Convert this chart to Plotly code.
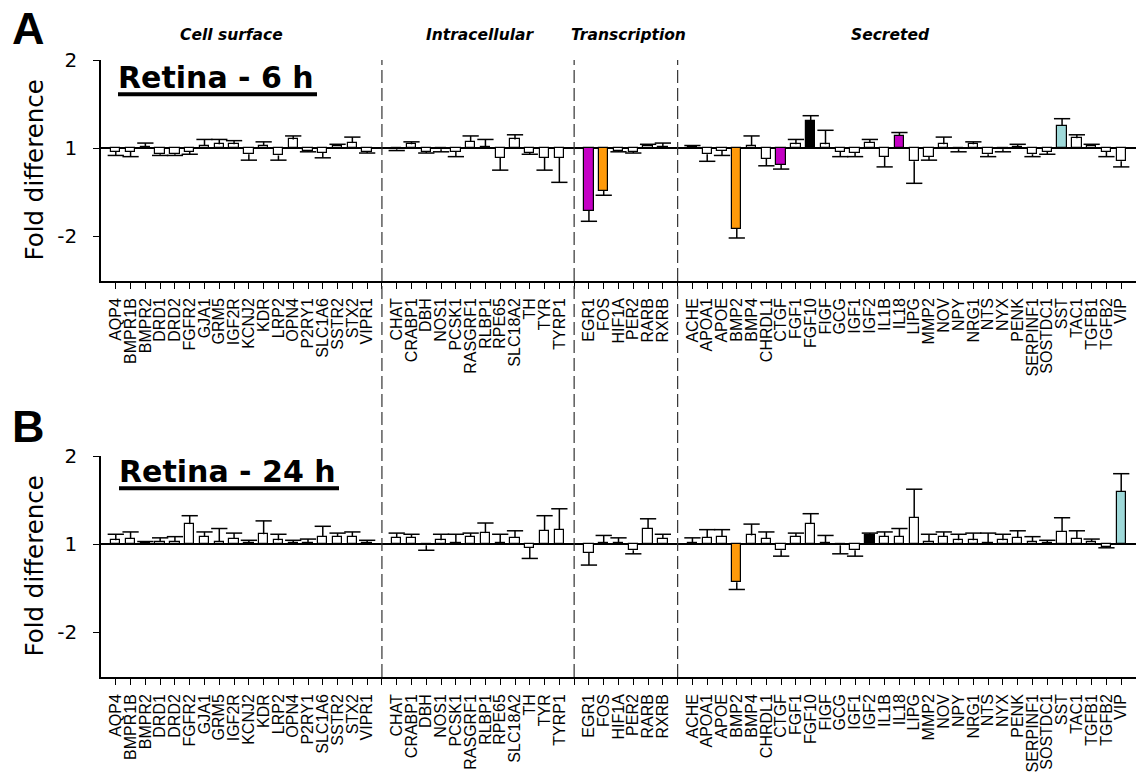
import math
import plotly.graph_objects as go

# ---------------- data ----------------
cell_surface = ["AQP4", "BMPR1B", "BMPR2", "DRD1", "DRD2", "FGFR2", "GJA1", "GRM5", "IGF2R",
                "KCNJ2", "KDR", "LRP2", "OPN4", "P2RY1", "SLC1A6", "SSTR2", "STX2", "VIPR1"]
intracellular = ["CHAT", "CRABP1", "DBH", "NOS1", "PCSK1", "RASGRF1", "RLBP1", "RPE65",
                 "SLC18A2", "TH", "TYR", "TYRP1"]
transcription = ["EGR1", "FOS", "HIF1A", "PER2", "RARB", "RXRB"]
secreted = ["ACHE", "APOA1", "APOE", "BMP2", "BMP4", "CHRDL1", "CTGF", "FGF1", "FGF10", "FIGF",
            "GCG", "IGF1", "IGF2", "IL1B", "IL18", "LIPG", "MMP2", "NOV", "NPY", "NRG1", "NTS",
            "NYX", "PENK", "SERPINF1", "SOSTDC1", "SST", "TAC1", "TGFB1", "TGFB2", "VIP"]
group_names = ["Cell surface", "Intracellular", "Transcription", "Secreted"]

# Retina - 6 h : fold difference (bar) and end of error whisker (fold)
a6_cell = [-1.03, -1.03, 1.01, -1.05, -1.05, -1.03, 1.02, 1.03, 1.03, -1.05, 1.02, -1.06, 1.07, -1.02, -1.04, 1.02, 1.04, -1.03]
a6_cell_e = [-1.06, -1.07, 1.04, -1.06, -1.06, -1.05, 1.07, 1.07, 1.06, -1.10, 1.05, -1.10, 1.10, -1.03, -1.08, 1.03, 1.09, -1.04]
a6_intra = [-1.01, 1.03, -1.03, -1.01, -1.03, 1.05, 1.01, -1.08, 1.07, -1.04, -1.08, -1.08]
a6_intra_e = [-1.02, 1.05, -1.04, -1.03, -1.07, 1.10, 1.07, -1.19, 1.11, -1.05, -1.19, -1.31]
a6_trans = [-1.64, -1.40, -1.02, -1.03, 1.02, 1.01]
a6_trans_e = [-1.78, -1.45, -1.03, -1.04, 1.03, 1.04]
a6_secr = [1.01, -1.05, -1.02, -1.89, 1.02, -1.09, -1.14, 1.03, 1.24, 1.03, -1.03, -1.04, 1.04, -1.07, 1.10,
           -1.11, -1.07, 1.03, -1.01, 1.03, -1.05, -1.01, 1.01, -1.05, -1.03, 1.19, 1.08, 1.02, -1.03, -1.11]
a6_secr_e = [1.02, -1.11, -1.06, -2.03, 1.10, -1.15, -1.18, 1.07, 1.29, 1.15, -1.07, -1.07, 1.07, -1.16, 1.13,
             -1.32, -1.10, 1.09, -1.03, 1.05, -1.07, -1.03, 1.03, -1.07, -1.05, 1.26, 1.11, 1.03, -1.07, -1.16]

# Retina - 24 h
b24_cell = [1.03, 1.04, 1.01, 1.02, 1.02, 1.17, 1.06, 1.02, 1.04, 1.01, 1.08, 1.03, 1.01, 1.01, 1.06, 1.06, 1.06, 1.01]
b24_cell_e = [1.08, 1.10, 1.02, 1.05, 1.06, 1.25, 1.10, 1.13, 1.09, 1.03, 1.20, 1.08, 1.03, 1.04, 1.15, 1.09, 1.10, 1.03]
b24_intra = [1.05, 1.05, -1.01, 1.03, 1.01, 1.06, 1.09, 1.01, 1.05, -1.03, 1.11, 1.12]
b24_intra_e = [1.09, 1.08, -1.05, 1.08, 1.08, 1.09, 1.18, 1.08, 1.11, -1.12, 1.25, 1.32]
b24_trans = [-1.07, 1.01, 1.01, -1.05, 1.13, 1.04]
b24_trans_e = [-1.18, 1.07, 1.05, -1.08, 1.22, 1.08]
b24_secr = [1.01, 1.05, 1.06, -1.35, 1.07, 1.04, -1.05, 1.06, 1.17, 1.01, -1.01, -1.05, 1.07, 1.06, 1.06,
            1.23, 1.02, 1.06, 1.03, 1.03, 1.01, 1.03, 1.05, 1.02, 1.01, 1.10, 1.04, 1.02, -1.02, 1.51]
b24_secr_e = [1.05, 1.12, 1.12, -1.43, 1.17, 1.10, -1.10, 1.09, 1.27, 1.07, -1.08, -1.10, 1.09, 1.10, 1.13,
              1.54, 1.08, 1.10, 1.08, 1.09, 1.09, 1.08, 1.11, 1.06, 1.03, 1.23, 1.11, 1.04, -1.03, 1.74]

highlight_6h = {"EGR1": "#C400C4", "FOS": "#FF9A0A", "BMP2": "#FF9A0A", "CTGF": "#C400C4",
                "FGF10": "#000000", "IL18": "#C400C4", "SST": "#9ED9D9"}
highlight_24h = {"BMP2": "#FF9A0A", "IGF2": "#000000", "VIP": "#9ED9D9"}

y_tick_labels = ["2", "1", "-2"]
y_tick_folds = [2, 1, -2]

# ---------------- helpers ----------------
def pos(f):
    """fold difference -> symmetric log2 position"""
    return math.log2(f) if f > 0 else -math.log2(-f)

groups = [cell_surface, intracellular, transcription, secreted]
genes, slots, gap_slots = [], [], []
s = 1
for gi, g in enumerate(groups):
    for name in g:
        genes.append(name)
        slots.append(s)
        s += 1
    if gi < len(groups) - 1:
        gap_slots.append(s)
        s += 1
n_slots = s - 1

tickvals = list(range(1, n_slots + 1))
label_of = dict(zip(slots, genes))
ticktext = [label_of.get(t, "") for t in tickvals]

FONT_BIG = "DejaVu Sans"
FONT_TICK = "Liberation Sans, Arial"

fig = go.Figure()

def add_panel(vals, ends, highlight, xa, ya):
    ys = [pos(v) for v in vals]
    colors = [highlight.get(g, "#FFFFFF") for g in genes]
    fig.add_trace(go.Bar(x=slots, y=ys, width=0.63, marker=dict(color=colors, line=dict(color="#000000", width=1.2)),
                         xaxis=xa, yaxis=ya, showlegend=False, hoverinfo="skip"))
    ex, ey = [], []
    cap = 0.55
    for x, v, e in zip(slots, vals, ends):
        t, w = pos(v), pos(e)
        ex += [x, x, None, x - cap, x + cap, None]
        ey += [t, w, None, w, w, None]
    fig.add_trace(go.Scatter(x=ex, y=ey, mode="lines", line=dict(color="#000000", width=1.5),
                             xaxis=xa, yaxis=ya, showlegend=False, hoverinfo="skip"))

add_panel(a6_cell + a6_intra + a6_trans + a6_secr, a6_cell_e + a6_intra_e + a6_trans_e + a6_secr_e,
          highlight_6h, "x", "y")
add_panel(b24_cell + b24_intra + b24_trans + b24_secr, b24_cell_e + b24_intra_e + b24_trans_e + b24_secr_e,
          highlight_24h, "x2", "y2")

W, H = 1139, 773
def px(x): return x / W
def py(y): return (H - y) / H

xdom = [px(101), px(1136)]
ydomA = [py(281), py(60)]
ydomB = [py(677), py(456)]

xcommon = dict(range=[0, n_slots + 1], tickmode="array", tickvals=tickvals, ticktext=ticktext,
               tickangle=-90, ticks="outside", ticklen=6, tickwidth=1.2, tickcolor="#000000",
               showline=True, linecolor="#000000", linewidth=1.5, showgrid=False, zeroline=False,
               tickfont=dict(family=FONT_TICK, size=16, color="#000000"), ticklabelstandoff=3,
               domain=xdom, fixedrange=True, automargin=False)
ycommon = dict(range=[-1.51, 1.0], tickmode="array", tickvals=[pos(f) for f in y_tick_folds],
               ticktext=y_tick_labels, ticks="outside", ticklen=6, tickwidth=1.2, tickcolor="#000000",
               showline=True, linecolor="#000000", linewidth=1.5, showgrid=False,
               zeroline=True, zerolinecolor="#000000", zerolinewidth=1.5,
               tickfont=dict(family=FONT_BIG, size=20, color="#000000"), ticklabelstandoff=12,
               fixedrange=True, automargin=False)

fig.update_layout(
    width=W, height=H, margin=dict(l=0, r=0, t=0, b=0, pad=0, autoexpand=False),
    paper_bgcolor="white", plot_bgcolor="white", bargap=0,
    xaxis=dict(xcommon, anchor="y"),
    xaxis2=dict(xcommon, anchor="y2"),
    yaxis=dict(ycommon, domain=ydomA, anchor="x"),
    yaxis2=dict(ycommon, domain=ydomB, anchor="x2"),
)

shapes = []
for g in gap_slots:
    shapes.append(dict(type="line", xref="x", yref="paper", x0=g, x1=g, y0=ydomB[0], y1=ydomA[1],
                       line=dict(color="#333333", width=1.2, dash="13px,5px"), layer="above"))
# underlines for panel titles
shapes.append(dict(type="line", xref="paper", yref="paper", x0=px(118), x1=px(317), y0=py(94.3), y1=py(94.3),
                   line=dict(color="#000000", width=4)))
shapes.append(dict(type="line", xref="paper", yref="paper", x0=px(119), x1=px(339), y0=py(488.3), y1=py(488.3),
                   line=dict(color="#000000", width=4)))
fig.update_layout(shapes=shapes)

group_title_x = [231.5, 479.5, 628, 890]
ann = []
for name, xc in zip(group_names, group_title_x):
    ann.append(dict(x=px(xc), xref="paper", y=py(35), yref="paper", text="<b><i>" + name + "</i></b>", showarrow=False,
                    font=dict(family=FONT_BIG, size=15.5, color="#000000"), xanchor="center", yanchor="middle"))
ann.append(dict(x=px(10), y=py(28), xref="paper", yref="paper", text="<b>A</b>", showarrow=False,
                font=dict(family="Liberation Sans, Arial", size=45, color="#000000"), xanchor="left", yanchor="middle"))
ann.append(dict(x=px(10), y=py(426), xref="paper", yref="paper", text="<b>B</b>", showarrow=False,
                font=dict(family="Liberation Sans, Arial", size=45, color="#000000"), xanchor="left", yanchor="middle"))
ann.append(dict(x=px(116), y=py(77), xref="paper", yref="paper", text="<b>Retina - 6 h</b>", showarrow=False,
                font=dict(family=FONT_BIG, size=30, color="#000000"), xanchor="left", yanchor="middle"))
ann.append(dict(x=px(117), y=py(472), xref="paper", yref="paper", text="<b>Retina - 24 h</b>", showarrow=False,
                font=dict(family=FONT_BIG, size=30, color="#000000"), xanchor="left", yanchor="middle"))
for yc in (170.5, 566.5):
    ann.append(dict(x=px(34), y=py(yc), xref="paper", yref="paper", text="Fold difference", showarrow=False,
                    textangle=-90, font=dict(family=FONT_BIG, size=24.5, color="#000000"),
                    xanchor="center", yanchor="middle"))
fig.update_layout(annotations=ann)

fig.write_html("out.html", config={"displayModeBar": False},
               post_script="document.body.style.margin='0';document.body.style.overflow='hidden';")
